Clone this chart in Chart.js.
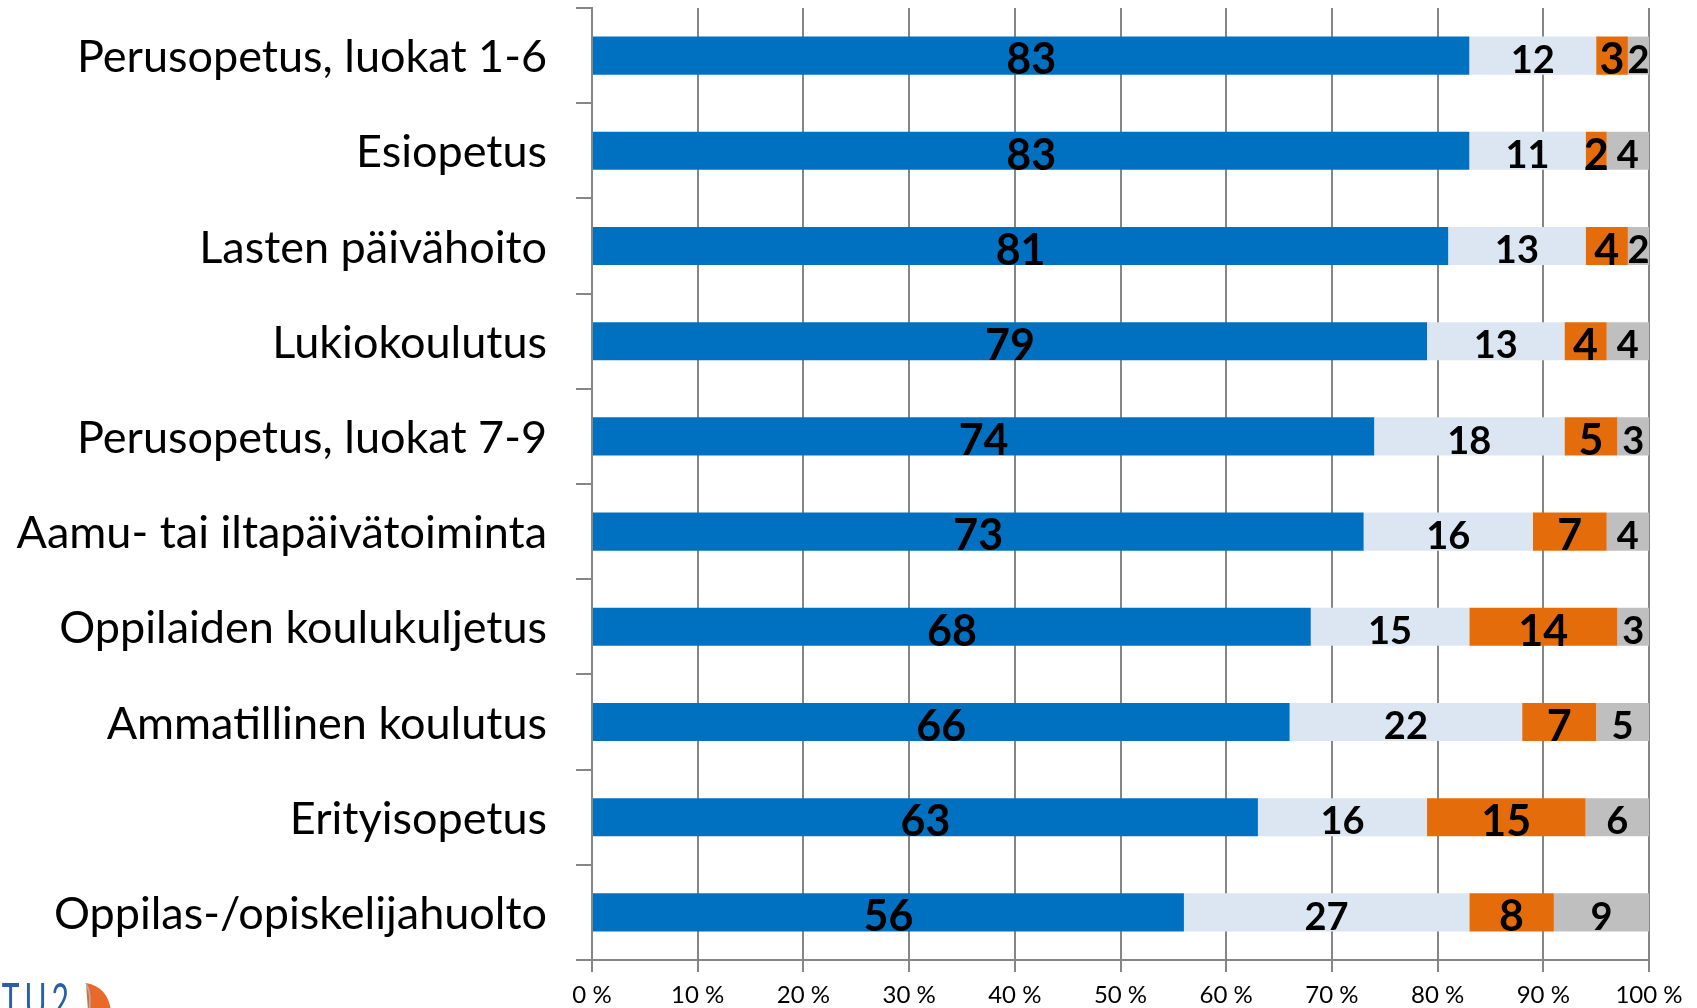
<!DOCTYPE html>
<html>
<head>
<meta charset="utf-8">
<script src="https://cdn.jsdelivr.net/npm/chart.js@4"></script>
<style>
  html, body { margin: 0; padding: 0; background: #fff; overflow: hidden; width: 1697px; height: 1008px; }
  #wrap { position: relative; width: 1697px; height: 1008px; overflow: hidden; }
  #logo { position: absolute; left: -21px; top: 975px; font-family: Lato, sans-serif; font-size: 30px; line-height: 30px; color: #2a5ea8; letter-spacing: 5px; white-space: nowrap; transform: scaleY(1.6); transform-origin: 0 0; }
  #sail { position: absolute; left: 84px; top: 983px; }
</style>
</head>
<body>
<div id="wrap">
  <canvas id="c" width="1697" height="1008"></canvas>
  <div id="logo">TTU2</div>
  <svg id="sail" width="28" height="28" viewBox="0 0 28 28"><path d="M2 0 Q24 4 27 28 L4 28 Z" fill="#e8692a"/><path d="M2 0 Q8 12 5 28" stroke="#9fb3cf" stroke-width="1.5" fill="none"/></svg>
</div>
<script>
const categories = [
  "Perusopetus, luokat 1-6",
  "Esiopetus",
  "Lasten päivähoito",
  "Lukiokoulutus",
  "Perusopetus, luokat 7-9",
  "Aamu- tai iltapäivätoiminta",
  "Oppilaiden koulukuljetus",
  "Ammatillinen koulutus",
  "Erityisopetus",
  "Oppilas-/opiskelijahuolto"
];
const series1 = [83, 83, 81, 79, 74, 73, 68, 66, 63, 56];
const series2 = [12, 11, 13, 13, 18, 16, 15, 22, 16, 27];
const series3 = [3, 2, 4, 4, 5, 7, 14, 7, 15, 8];
const series4 = [2, 4, 2, 4, 3, 4, 3, 5, 6, 9];
const xTicks = [0, 10, 20, 30, 40, 50, 60, 70, 80, 90, 100];

const labelFonts = [
  "bold 43px Lato",
  "bold 38px Lato",
  "bold 43px Lato",
  "bold 38px Lato"
];

const barLabels = {
  id: 'barLabels',
  afterDatasetsDraw(chart) {
    const ctx = chart.ctx;
    ctx.save();
    chart.data.datasets.forEach((ds, di) => {
      const meta = chart.getDatasetMeta(di);
      ctx.font = labelFonts[di];
      ctx.fillStyle = '#000';
      ctx.textAlign = 'center';
      ctx.textBaseline = 'middle';
      meta.data.forEach((el, i) => {
        const p = el.getProps(['x', 'y', 'base'], true);
        const cx = (p.x + p.base) / 2;
        ctx.fillText(String(ds.data[i]), cx, p.y + 5);
      });
    });
    ctx.restore();
  }
};

const gridColor = '#868686';

new Chart(document.getElementById('c'), {
  type: 'bar',
  data: {
    labels: categories,
    datasets: [
      { data: series1, backgroundColor: '#0070c0' },
      { data: series2, backgroundColor: '#dce6f2' },
      { data: series3, backgroundColor: '#e46c0a' },
      { data: series4, backgroundColor: '#bfbfbf' }
    ]
  },
  options: {
    indexAxis: 'y',
    responsive: false,
    animation: false,
    devicePixelRatio: 1,
    layout: { padding: { top: 8, right: 48, left: 0, bottom: 0 } },
    datasets: { bar: { categoryPercentage: 1, barPercentage: 0.4, borderWidth: 0 } },
    plugins: { legend: { display: false }, tooltip: { enabled: false } },
    scales: {
      x: {
        stacked: true,
        min: 0, max: 100,
        afterBuildTicks(scale) { scale.ticks = xTicks.map(v => ({ value: v })); },
        afterFit(scale) { scale.height = 48; scale.paddingLeft = 0; scale.paddingRight = 0; },
        ticks: {
          callback: v => v + ' %',
          font: { family: 'Lato', size: 24 },
          color: '#000',
          padding: 9,
          maxRotation: 0
        },
        grid: { color: gridColor, lineWidth: 2, tickLength: 12, drawOnChartArea: true },
        border: { color: gridColor, width: 2 }
      },
      y: {
        stacked: true,
        afterFit(scale) { scale.width = 592; scale.paddingTop = 0; scale.paddingBottom = 0; },
        ticks: {
          font: { family: 'Lato', size: 45 },
          color: '#000',
          padding: 29,
          labelOffset: 2
        },
        grid: { offset: true, drawOnChartArea: false, color: gridColor, lineWidth: 2, tickLength: 16 },
        border: { color: gridColor, width: 2 }
      }
    }
  },
  plugins: [barLabels]
});
</script>
</body>
</html>
